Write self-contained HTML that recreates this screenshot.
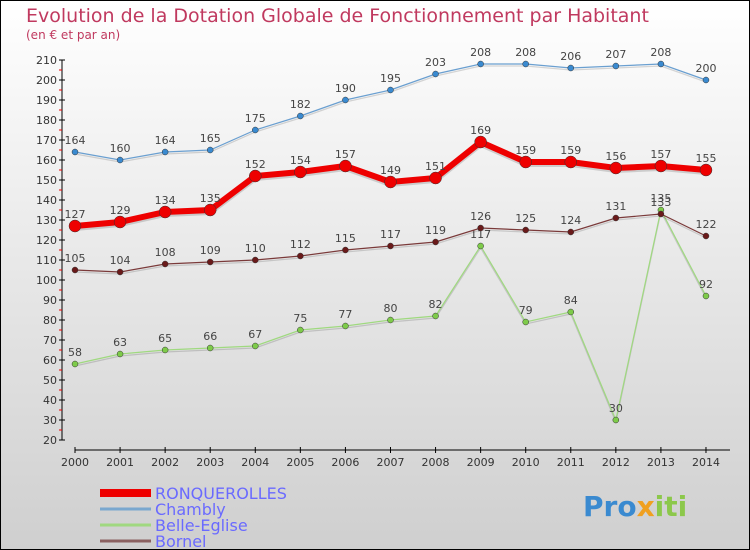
<!DOCTYPE html>
<html><head><meta charset="utf-8"><style>
body{margin:0}
#c{width:750px;height:550px;position:relative;overflow:hidden;background:linear-gradient(#ffffff,#cfcfcf);box-sizing:border-box;border:1px solid #000;font-family:"DejaVu Sans","Liberation Sans",sans-serif}
</style></head><body>
<div id="c">
<svg id="s" width="750" height="550" style="position:absolute;left:-1px;top:-1px">
<text x="26" y="22" font-size="19" fill="#c0395f">Evolution de la Dotation Globale de Fonctionnement par Habitant</text>
<text x="26" y="39" font-size="12" fill="#c0395f">(en € et par an)</text>
<g id="ax"></g><g id="ser"></g><g id="leg"></g>
<text x="583" y="516" font-size="28" font-weight="bold" fill="#3a8ad0">Pro<tspan fill="#f0a020">x</tspan><tspan fill="#8cc84b">iti</tspan></text>
</svg>
</div>
<script>
const years=[2000,2001,2002,2003,2004,2005,2006,2007,2008,2009,2010,2011,2012,2013,2014];
const ronq=[127,129,134,135,152,154,157,149,151,169,159,159,156,157,155];
const chambly=[164,160,164,165,175,182,190,195,203,208,208,206,207,208,200];
const belle=[58,63,65,66,67,75,77,80,82,117,79,84,30,135,92];
const bornel=[105,104,108,109,110,112,115,117,119,126,125,124,131,133,122];
const yTicks=[20,30,40,50,60,70,80,90,100,110,120,130,140,150,160,170,180,190,200,210];
const NS="http://www.w3.org/2000/svg";
const X=i=>75+i*45.07, Y=v=>440-(v-20)*2;
function mk(t,a,p){const e=document.createElementNS(NS,t);for(const k in a)e.setAttribute(k,a[k]);p.appendChild(e);return e;}
const ax=document.getElementById('ax');
let l=mk('line',{x1:62,y1:Y(210),x2:62,y2:Y(20),stroke:'#000'},ax);


l=mk('line',{x1:75,y1:450,x2:730,y2:450,stroke:'#000'},ax);


yTicks.forEach(v=>{
 mk('line',{x1:59,y1:Y(v),x2:65,y2:Y(v),stroke:'#000'},ax);
 if(v<210)mk('line',{x1:59,y1:Y(v+5),x2:62,y2:Y(v+5),stroke:'#e00'},ax);
 const t=mk('text',{x:57,y:Y(v)+4,'font-size':11,'text-anchor':'end',fill:'#333'},ax);t.textContent=v;
 
 
});
years.forEach((y,i)=>{
 mk('line',{x1:X(i),y1:447,x2:X(i),y2:453,stroke:'#000'},ax);
 const t=mk('text',{x:X(i),y:466,'font-size':11,'text-anchor':'middle',fill:'#333'},ax);t.textContent=y;
 
 
});
const ser=document.getElementById('ser');
function series(d,col,dot,w,r,name){
 const g=mk('g',{},ser);
 
 
 mk('polyline',{points:d.map((v,i)=>X(i)+','+(Y(v)+2)).join(' '),fill:'none',stroke:'rgba(0,0,0,0.15)','stroke-width':w},g);
 mk('polyline',{points:d.map((v,i)=>X(i)+','+Y(v)).join(' '),fill:'none',stroke:col,'stroke-width':w},g);
 d.forEach((v,i)=>{
  const c=mk('circle',{cx:X(i),cy:Y(v),r:r,fill:dot,stroke:'#333','stroke-width':0.5},g);
  
  
  const t=mk('text',{x:X(i),y:Y(v)-8,'font-size':11,'text-anchor':'middle',fill:'#444'},g);t.textContent=v;
  
  
 });
}
series(belle,'#9fd97f','#7ecb4a',1.2,3,'belle-eglise');
series(bornel,'#7a3a3a','#6a1a1a',1.2,3,'bornel');
series(chambly,'#6a9fd0','#3a8ad0',1.2,3,'chambly');
series(ronq,'#ee0000','#ee0000',6,6,'ronquerolles');
const leg=document.getElementById('leg');
[['RONQUEROLLES','#ee0000',8],['Chambly','#7aa8cf',3],['Belle-Eglise','#a0d880',3],['Bornel','#8a6060',3]].forEach((e,i)=>{
 const y=493+i*16;
 const r=mk('rect',{x:100,y:y-e[2]/2,width:51,height:e[2],fill:e[1]},leg);
 
 
 const t=mk('text',{x:155,y:y+6,'font-size':16,fill:'#6a6aff'},leg);t.textContent=e[0];
 
 
});
</script>
</body></html>
